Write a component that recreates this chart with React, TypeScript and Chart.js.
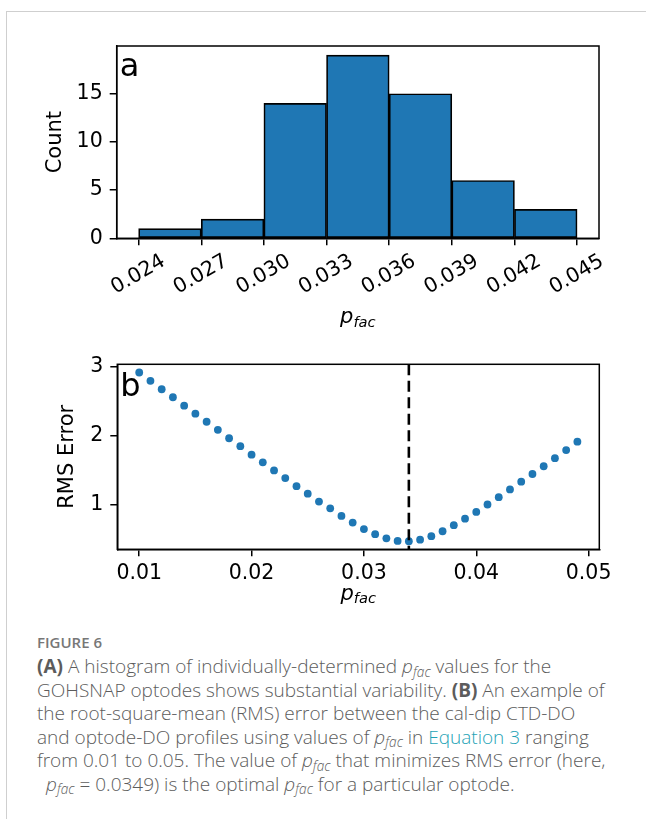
import React, { useEffect, useRef } from 'react';
import { Chart, registerables } from 'chart.js';

Chart.register(...registerables);

// ---------- data ----------
const binEdges = [0.024, 0.027, 0.030, 0.033, 0.036, 0.039, 0.042, 0.045];
const binCounts = [1, 2, 14, 19, 15, 6, 3];
const histXTicks = [0.024, 0.027, 0.030, 0.033, 0.036, 0.039, 0.042, 0.045];
const histYTicks = [0, 5, 10, 15];

const pfacValues = [
  0.010, 0.011, 0.012, 0.013, 0.014, 0.015, 0.016, 0.017, 0.018, 0.019,
  0.020, 0.021, 0.022, 0.023, 0.024, 0.025, 0.026, 0.027, 0.028, 0.029,
  0.030, 0.031, 0.032, 0.033, 0.034, 0.035, 0.036, 0.037, 0.038, 0.039,
  0.040, 0.041, 0.042, 0.043, 0.044, 0.045, 0.046, 0.047, 0.048, 0.049,
];
const rmsValues = [
  2.916, 2.795, 2.673, 2.557, 2.435, 2.318, 2.201, 2.084, 1.962, 1.846,
  1.724, 1.612, 1.495, 1.383, 1.266, 1.158, 1.042, 0.944, 0.834, 0.738,
  0.644, 0.569, 0.509, 0.471, 0.467, 0.490, 0.541, 0.612, 0.700, 0.794,
  0.892, 1.000, 1.107, 1.219, 1.331, 1.443, 1.555, 1.673, 1.790, 1.912,
];
const optimalPfac = 0.034;
const rmsXTicks = [0.01, 0.02, 0.03, 0.04, 0.05];
const rmsYTicks = [1, 2, 3];

const xTitleMain = 'p';
const xTitleSub = 'fac';

// ---------- style ----------
const FONT = "'DejaVu Sans', sans-serif";
const BLUE = '#1f77b4';
const TICK_FONT = { family: FONT, size: 20.5 };
const TITLE_FONT = { family: FONT, size: 21 };

function axisCommon() {
  return {
    grid: {
      display: true,
      drawOnChartArea: false,
      drawTicks: true,
      tickLength: 7,
      color: '#000',
      lineWidth: 1.5,
      offset: false,
    },
    border: { display: true, color: '#000', width: 1.5 },
  };
}

function makeDecorPlugin(opts: {
  panel: string;
  panelBaselineOffset: number;
  titleBaseline: number;
  vline?: number;
}) {
  return {
    id: 'decor',
    afterDatasetsDraw(chart: any) {
      const { ctx, chartArea } = chart;
      const { left, top, right, bottom } = chartArea;
      ctx.save();
      if (opts.vline !== undefined) {
        const x = chart.scales.x.getPixelForValue(opts.vline);
        ctx.beginPath();
        ctx.setLineDash([11, 5.5]);
        ctx.strokeStyle = '#000';
        ctx.lineWidth = 2.6;
        ctx.moveTo(x, top);
        ctx.lineTo(x, bottom);
        ctx.stroke();
        ctx.setLineDash([]);
      }
      ctx.strokeStyle = '#000';
      ctx.lineWidth = 1.5;
      ctx.strokeRect(left, top, right - left, bottom - top);
      ctx.fillStyle = '#000';
      ctx.font = `32px ${FONT}`;
      ctx.textAlign = 'left';
      ctx.textBaseline = 'alphabetic';
      ctx.fillText(opts.panel, left + 3, top + opts.panelBaselineOffset);
      const mainFont = `italic 21px ${FONT}`;
      const subFont = `italic 14.7px ${FONT}`;
      ctx.font = mainFont;
      const wp = ctx.measureText(xTitleMain).width;
      ctx.font = subFont;
      const ws = ctx.measureText(xTitleSub).width;
      const cx = (left + right) / 2;
      const x0 = cx - (wp + ws) / 2;
      ctx.font = mainFont;
      ctx.fillText(xTitleMain, x0, opts.titleBaseline);
      ctx.font = subFont;
      ctx.fillText(xTitleSub, x0 + wp, opts.titleBaseline + 3.6);
      ctx.restore();
    },
  };
}

function HistChart() {
  const ref = useRef<HTMLCanvasElement>(null);
  useEffect(() => {
    if (!ref.current) return;
    const centers = binCounts.map((_, i) => (binEdges[i] + binEdges[i + 1]) / 2);
    const chart = new Chart(ref.current, {
      type: 'bar',
      data: {
        datasets: [
          {
            data: centers.map((x, i) => ({ x, y: binCounts[i] })),
            backgroundColor: BLUE,
            borderColor: '#000',
            borderWidth: 1.7,
            borderSkipped: false,
            barPercentage: 1,
            categoryPercentage: 1,
          } as any,
        ],
      },
      options: {
        animation: false,
        responsive: false,
        devicePixelRatio: 1,
        layout: { padding: { top: 46, right: 47, left: 0, bottom: 0 } },
        plugins: { legend: { display: false }, tooltip: { enabled: false } },
        scales: {
          x: {
            type: 'linear',
            min: 0.02295,
            max: 0.04605,
            offset: false,
            ...axisCommon(),
            afterBuildTicks: (s: any) => {
              s.ticks = histXTicks.map((v) => ({ value: v }));
            },
            afterFit: (s: any) => {
              s.height = 345 - 238.3;
            },
            ticks: {
              autoSkip: false,
              maxRotation: 30,
              minRotation: 30,
              labelOffset: 25,
              padding: 4,
              color: '#000',
              font: TICK_FONT,
              callback: (v: any) => Number(v).toFixed(3),
            },
          },
          y: {
            type: 'linear',
            min: 0,
            max: 19.95,
            ...axisCommon(),
            afterBuildTicks: (s: any) => {
              s.ticks = histYTicks.map((v) => ({ value: v }));
            },
            afterFit: (s: any) => {
              s.width = 116.7;
            },
            ticks: {
              padding: 7,
              color: '#000',
              font: TICK_FONT,
              callback: (v: any) => String(v),
            },
            title: {
              display: true,
              text: 'Count',
              color: '#000',
              font: TITLE_FONT,
              padding: { top: 43.1, bottom: 0 },
            },
          },
        },
      } as any,
      plugins: [makeDecorPlugin({ panel: 'a', panelBaselineOffset: 30, titleBaseline: 323 })],
    });
    return () => chart.destroy();
  }, []);
  return (
    <canvas
      ref={ref}
      width={646}
      height={345}
      style={{ position: 'absolute', left: 0, top: 0, width: 646, height: 345 }}
    />
  );
}

function RmsChart() {
  const ref = useRef<HTMLCanvasElement>(null);
  useEffect(() => {
    if (!ref.current) return;
    const chart = new Chart(ref.current, {
      type: 'scatter',
      data: {
        datasets: [
          {
            data: pfacValues.map((x, i) => ({ x, y: rmsValues[i] })),
            backgroundColor: BLUE,
            borderColor: BLUE,
            borderWidth: 0,
            pointRadius: 3.9,
            showLine: false,
          },
        ],
      },
      options: {
        animation: false,
        responsive: false,
        devicePixelRatio: 1,
        layout: { padding: { top: 13.3, right: 46.7, left: 0, bottom: 0 } },
        plugins: { legend: { display: false }, tooltip: { enabled: false } },
        scales: {
          x: {
            type: 'linear',
            min: 0.00805,
            max: 0.05095,
            ...axisCommon(),
            afterBuildTicks: (s: any) => {
              s.ticks = rmsXTicks.map((v) => ({ value: v }));
            },
            afterFit: (s: any) => {
              s.height = 275 - (549.3 - 345);
            },
            ticks: {
              autoSkip: false,
              maxRotation: 0,
              minRotation: 0,
              padding: 5.4,
              color: '#000',
              font: TICK_FONT,
              callback: (v: any) => Number(v).toFixed(2),
            },
          },
          y: {
            type: 'linear',
            min: 0.35,
            max: 3.035,
            ...axisCommon(),
            afterBuildTicks: (s: any) => {
              s.ticks = rmsYTicks.map((v) => ({ value: v }));
            },
            afterFit: (s: any) => {
              s.width = 117.3;
            },
            ticks: {
              padding: 7,
              color: '#000',
              font: TICK_FONT,
              callback: (v: any) => String(v),
            },
            title: {
              display: true,
              text: 'RMS Error',
              color: '#000',
              font: TITLE_FONT,
              padding: { top: 55, bottom: 0 },
            },
          },
        },
      } as any,
      plugins: [
        makeDecorPlugin({
          panel: 'b',
          panelBaselineOffset: 31.7,
          titleBaseline: 599.5 - 345,
          vline: optimalPfac,
        }),
      ],
    });
    return () => chart.destroy();
  }, []);
  return (
    <canvas
      ref={ref}
      width={646}
      height={275}
      style={{ position: 'absolute', left: 0, top: 345, width: 646, height: 275 }}
    />
  );
}

const CAPTION_FONT = "'Open Sans', sans-serif";
const capColor = '#5c5c5c';

function Pfac() {
  return (
    <span style={{ fontStyle: 'italic' }}>
      p
      <span style={{ fontSize: '0.72em', position: 'relative', top: '0.28em' }}>fac</span>
    </span>
  );
}

export default function App() {
  const lineStyle: React.CSSProperties = { whiteSpace: 'nowrap', height: 23.5 };
  return (
    <div
      style={{
        position: 'absolute',
        left: 0,
        top: 0,
        width: 646,
        height: 819,
        background: '#fff',
        overflow: 'hidden',
      }}
    >
      <div
        style={{
          position: 'absolute',
          left: 7,
          top: 11,
          right: 0,
          height: 0,
          borderTop: '1.5px solid #cfcfcf',
        }}
      />
      <div
        style={{
          position: 'absolute',
          left: 6,
          top: 11,
          bottom: 0,
          width: 0,
          borderLeft: '1.5px solid #cfcfcf',
        }}
      />
      <HistChart />
      <RmsChart />
      <div
        style={{
          position: 'absolute',
          left: 37,
          top: 632,
          fontFamily: CAPTION_FONT,
          fontSize: 15,
          fontWeight: 600,
          lineHeight: '20px',
          color: '#777',
          letterSpacing: 0,
        }}
      >
        FIGURE 6
      </div>
      <div
        style={{
          position: 'absolute',
          left: 37,
          top: 655,
          fontFamily: CAPTION_FONT,
          fontSize: 19,
          fontWeight: 300,
          lineHeight: '23.5px',
          color: capColor,
        }}
      >
        <div style={lineStyle}>
          <b style={{ fontWeight: 700 }}>(A)</b> A histogram of individually-determined <Pfac /> values for the
        </div>
        <div style={lineStyle}>
          GOHSNAP optodes shows substantial variability. <b style={{ fontWeight: 700 }}>(B)</b> An example of
        </div>
        <div style={lineStyle}>the root-square-mean (RMS) error between the cal-dip CTD-DO</div>
        <div style={lineStyle}>
          and optode-DO profiles using values of <Pfac /> in{' '}
          <span style={{ color: '#1ea3b6' }}>Equation 3</span> ranging
        </div>
        <div style={lineStyle}>
          from 0.01 to 0.05. The value of <Pfac /> that minimizes RMS error (here,
        </div>
        <div style={{ ...lineStyle, paddingLeft: 9 }}>
          <Pfac /> = 0.0349) is the optimal <Pfac /> for a particular optode.
        </div>
      </div>
    </div>
  );
}
